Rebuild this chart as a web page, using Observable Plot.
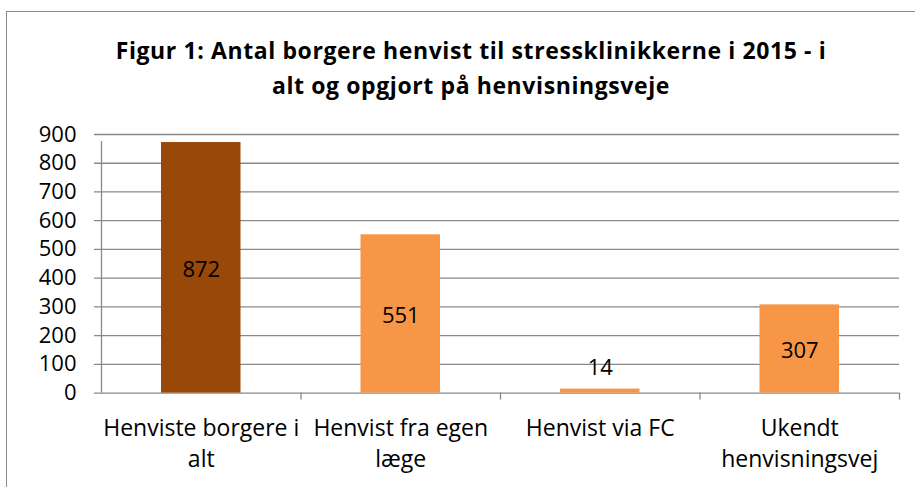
<!DOCTYPE html>
<html>
<head>
<meta charset="utf-8">
<script src="https://cdn.jsdelivr.net/npm/d3@7"></script>
<script src="https://cdn.jsdelivr.net/npm/@observablehq/plot@0.6"></script>
<style>
  html, body { margin: 0; padding: 0; background: #fff; overflow: hidden; }
  #page { position: relative; width: 915px; height: 487px; overflow: hidden; font-family: "Open Sans", Lato, sans-serif; }
  #frame { position: absolute; left: 6px; top: 11px; width: 960px; height: 520px; border: 1px solid #8a8a8a; box-sizing: border-box; }
  #title { position: absolute; left: 6px; width: 930px; top: 33px; text-align: center; font-weight: bold; font-size: 23px; letter-spacing: 0.6px; line-height: 35px; color: #000; }
  #chart { position: absolute; left: 0; top: 0; }
</style>
</head>
<body>
<div id="page">
  <div id="frame"></div>
  <div id="chart"></div>
  <div id="title"></div>
</div>
<script>
const titleLines = ["Figur 1: Antal borgere henvist til stressklinikkerne i 2015 - i", "alt og opgjort på henvisningsveje"];
const categories = ["Henviste borgere i alt", "Henvist fra egen læge", "Henvist via FC", "Ukendt henvisningsvej"];
const tickLabels = ["Henviste borgere i\nalt", "Henvist fra egen\nlæge", "Henvist via FC", "Ukendt\nhenvisningsvej"];
const values = [872, 551, 14, 307];
const groups = ["I alt", "Henvisningsvej", "Henvisningsvej", "Henvisningsvej"];
const yTicks = [0, 100, 200, 300, 400, 500, 600, 700, 800, 900];

const data = categories.map((c, i) => ({ i, category: c, label: tickLabels[i], value: values[i], group: groups[i] }));

document.getElementById("title").innerHTML = titleLines.join("<br>");

const grid = "#898989";
const chart = Plot.plot({
  width: 915,
  height: 487,
  marginTop: 134,
  marginBottom: 94.4,
  marginLeft: 101,
  marginRight: 16,
  style: { fontFamily: "'Open Sans', Lato, sans-serif", fontSize: "22px", color: "#000", background: "transparent" },
  x: { domain: [0, categories.length], axis: null },
  y: { domain: [0, 900], axis: null },
  color: { domain: ["I alt", "Henvisningsvej"], range: ["#984807", "#F79646"] },
  marks: [
    Plot.ruleY(yTicks, { x1: 0, x2: categories.length, stroke: grid, strokeWidth: 1.3, insetLeft: -7 }),
    Plot.ruleX([0], { y1: 0, y2: 900, stroke: grid, strokeWidth: 1.3, insetBottom: -7 }),
    Plot.ruleX(d3.range(1, categories.length + 1), { y1: 0, y2: 0, stroke: grid, strokeWidth: 1.3, insetBottom: -7 }),
    Plot.rectY(data, { x1: "i", x2: d => d.i + 1, y1: 0, y2: "value", fill: "group", insetLeft: 60, insetRight: 60 }),
    Plot.text(yTicks, { x: 0, y: d => d, text: d => String(d), textAnchor: "end", dx: -25, fill: "#000" }),
    Plot.text(data.filter(d => d.value > 50), { x: d => d.i + 0.5, y: d => d.value / 2, text: d => String(d.value), fill: "#000", dy: 2 }),
    Plot.text(data.filter(d => d.value <= 50), { x: d => d.i + 0.5, y: "value", text: d => String(d.value), fill: "#000", lineAnchor: "bottom", dy: -14 }),
    Plot.text(data, { x: d => d.i + 0.5, y: 0, text: "label", lineAnchor: "top", dy: 21, fontSize: 23, lineHeight: 1.35, fill: "#000" })
  ]
});
document.getElementById("chart").appendChild(chart);
</script>
</body>
</html>
